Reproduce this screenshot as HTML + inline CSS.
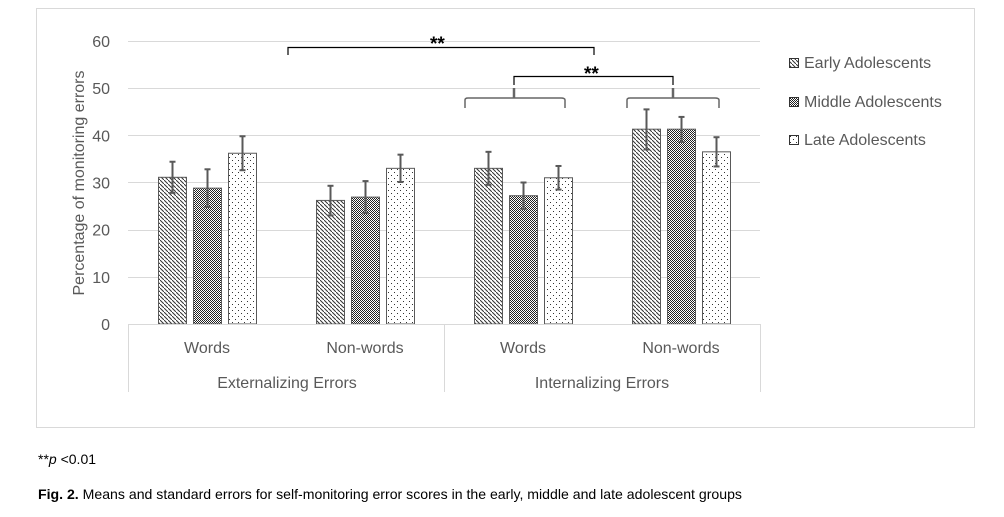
<!DOCTYPE html>
<html><head><meta charset="utf-8"><style>
body{margin:0;background:#fff;width:1004px;height:517px;overflow:hidden;font-family:"Liberation Sans",sans-serif}
svg{position:absolute;left:0;top:0}
</style></head><body>
<svg id="s" width="1004" height="517" xmlns="http://www.w3.org/2000/svg" font-family="Liberation Sans, sans-serif">
<defs>
<pattern id="pE" width="4" height="4" patternUnits="userSpaceOnUse"><rect width="4" height="4" fill="#fff"/><path d="M-1,1 L1,-1 M0,0 L4,4 M3,5 L5,3" stroke="#333" stroke-width="1"/></pattern>
<pattern id="pM" width="2" height="2" patternUnits="userSpaceOnUse"><rect width="2" height="2" fill="#fff"/><rect width="1" height="1" fill="#222"/><rect x="1" y="1" width="1" height="1" fill="#222"/></pattern>
<pattern id="pL" width="6" height="6" patternUnits="userSpaceOnUse"><rect width="6" height="6" fill="#fff"/><rect x="1" y="1" width="1" height="1" fill="#333"/><rect x="4" y="4" width="1" height="1" fill="#333"/></pattern>
</defs>
<rect x="36.5" y="8.5" width="938" height="419" fill="none" stroke="#d9d9d9"/>
<g id="grid" stroke="#d9d9d9" stroke-width="1"></g>
<g id="bars"></g>
<g fill="#595959" font-size="16" text-anchor="end" id="yl"></g>
<text transform="translate(84,183) rotate(-90)" text-anchor="middle" font-size="16" fill="#595959">Percentage of monitoring errors</text>
<g stroke="#d9d9d9"><line x1="128" y1="324.5" x2="760" y2="324.5"/><line x1="128.5" y1="324" x2="128.5" y2="392"/><line x1="444.5" y1="324" x2="444.5" y2="392"/><line x1="760.5" y1="324" x2="760.5" y2="392"/></g>
<g fill="#595959" font-size="16" text-anchor="middle">
<text x="207" y="353">Words</text><text x="365" y="353">Non-words</text><text x="523" y="353">Words</text><text x="681" y="353">Non-words</text>
<text x="287" y="388">Externalizing Errors</text><text x="602" y="388">Internalizing Errors</text></g>
<g fill="none" stroke="#000" stroke-width="1.2">
<path d="M288,55 V47.5 H594 V55"/>
<path d="M514,85 V76.5 H673 V85"/>
</g>
<g fill="none" stroke="#666" stroke-width="1.5">
<path d="M465,108 V100 Q465,98 468,98 H561 Q565,98 565,100 V108"/><line x1="514" y1="88" x2="514" y2="98" stroke-width="2.5"/>
<path d="M627,108 V100 Q627,98 630,98 H715 Q719,98 719,100 V108"/><line x1="673" y1="88" x2="673" y2="98" stroke-width="2.5"/>
</g>
<g font-size="19" font-weight="bold" fill="#000"><text x="430" y="50">**</text><text x="584" y="80">**</text></g>
<g font-size="16" fill="#595959">
<rect x="789.5" y="58.5" width="9" height="9" fill="url(#pE)" stroke="#333"/><text x="804" y="68">Early Adolescents</text>
<rect x="789.5" y="97.5" width="9" height="9" fill="url(#pM)" stroke="#333"/><text x="804" y="107">Middle Adolescents</text>
<rect x="789.5" y="135.5" width="9" height="9" fill="url(#pL)" stroke="#333"/><text x="804" y="145">Late Adolescents</text>
</g>
<text x="38" y="464" font-size="14" fill="#000">**<tspan font-style="italic">p</tspan> &lt;0.01</text>
<text x="38" y="499" font-size="14" fill="#000" textLength="704" lengthAdjust="spacingAndGlyphs"><tspan font-weight="bold">Fig. 2.</tspan> Means and standard errors for self-monitoring error scores in the early, middle and late adolescent groups</text>
</svg>
<script>
var NS="http://www.w3.org/2000/svg";function el(p,t,a){var e=document.createElementNS(NS,t);for(var k in a)e.setAttribute(k,a[k]);p.appendChild(e);return e;}
function Y(v){return 324-4.717*v;}
var g=document.getElementById('grid'),yl=document.getElementById('yl'),b=document.getElementById('bars');
for(var v=10;v<=60;v+=10){el(g,'line',{x1:128,x2:760,y1:Math.round(Y(v))+.5,y2:Math.round(Y(v))+.5});}
for(var v=0;v<=60;v+=10){var t=el(yl,'text',{x:110,y:Y(v)+6});t.textContent=v;}
var d=[[[31.1,34.4,27.8],[28.8,32.8,24.8],[36.2,39.8,32.6]],[[26.2,29.3,23],[26.9,30.3,23.5],[33,35.9,30.1]],[[33,36.5,29.5],[27.2,30,24.4],[31,33.5,28.5]],[[41.3,45.5,37],[41.3,43.9,38.6],[36.5,39.6,33.4]]];
var pats=['pE','pM','pL'],off=[-49,-14,21];
for(var i=0;i<4;i++){var c=128+158*(i+.5);for(var j=0;j<3;j++){var x=Math.round(c+off[j]),q=d[i][j];
el(b,'rect',{x:x+.5,y:Y(q[0]),width:28,height:324-Y(q[0]),fill:'url(#'+pats[j]+')',stroke:'#595959','stroke-width':1});
var cx=x+14.5;el(b,'line',{x1:cx,x2:cx,y1:Y(q[1]),y2:Y(q[2]),stroke:'#595959','stroke-width':2});
el(b,'line',{x1:cx-3,x2:cx+3,y1:Y(q[1]),y2:Y(q[1]),stroke:'#595959','stroke-width':2});
el(b,'line',{x1:cx-3,x2:cx+3,y1:Y(q[2]),y2:Y(q[2]),stroke:'#595959','stroke-width':2});}}
</script>
</body></html>
